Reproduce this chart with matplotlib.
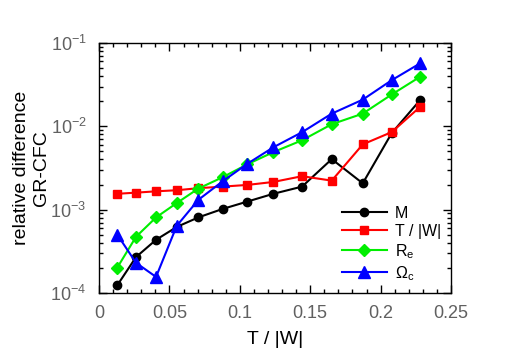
import numpy as np
import matplotlib.pyplot as plt
from matplotlib.ticker import MultipleLocator, LogLocator, LogFormatterMathtext

plt.rcParams['font.family'] = ['Liberation Sans', 'DejaVu Sans']
plt.rcParams['mathtext.fontset'] = 'custom'
plt.rcParams['mathtext.rm'] = 'Liberation Sans'
plt.rcParams['mathtext.it'] = 'Liberation Sans:italic'

# T/|W| of each model
tw = [0.0130, 0.0263, 0.0405, 0.0552, 0.0705, 0.0878, 0.1053,
      0.1238, 0.1442, 0.1653, 0.1873, 0.2079, 0.2280]

# relative differences GR-CFC
diff_M = [1.24e-4, 2.7e-4, 4.35e-4, 6.2e-4, 8.07e-4, 1.02e-3, 1.25e-3,
          1.55e-3, 1.89e-3, 4.04e-3, 2.07e-3, 8.3e-3, 2.06e-2]
diff_TW = [1.55e-3, 1.60e-3, 1.66e-3, 1.71e-3, 1.81e-3, 1.89e-3, 1.98e-3,
           2.15e-3, 2.52e-3, 2.23e-3, 6.07e-3, 8.53e-3, 1.71e-2]
diff_Re = [2.02e-4, 4.73e-4, 8.07e-4, 1.20e-3, 1.79e-3, 2.45e-3, 3.5e-3,
           4.9e-3, 6.8e-3, 1.06e-2, 1.42e-2, 2.41e-2, 3.93e-2]
diff_Om = [5.0e-4, 2.3e-4, 1.56e-4, 6.4e-4, 1.31e-3, 2.19e-3, 3.55e-3,
           5.6e-3, 8.5e-3, 1.42e-2, 2.09e-2, 3.58e-2, 5.69e-2]

fig = plt.figure(figsize=(5.12, 3.58), dpi=100)
ax = fig.add_axes([0.1934, 0.1816, 0.6875, 0.6983])

lw = 1.5
ax.plot(tw, diff_M, '-o', color='black', lw=lw, ms=6, label='M')
ax.plot(tw, diff_TW, '-s', color='red', lw=lw, ms=6, label='T / |W|')
ax.plot(tw, diff_Re, '-D', color='#00ee00', lw=lw, ms=6, label=r'R$_\mathrm{e}$')
ax.plot(tw, diff_Om, '-^', color='blue', lw=lw, ms=8, label=r'$\Omega_\mathrm{c}$')

ax.set_yscale('log')
ax.set_xlim(0, 0.25)
ax.set_ylim(1e-4, 1e-1)
ax.xaxis.set_major_locator(MultipleLocator(0.05))
ax.xaxis.set_minor_locator(MultipleLocator(0.01))
ax.yaxis.set_major_locator(LogLocator(base=10))
ax.yaxis.set_minor_locator(LogLocator(base=10, subs=np.arange(2, 10)))
ax.yaxis.set_major_formatter(LogFormatterMathtext())
ax.set_xticks([0, 0.05, 0.1, 0.15, 0.2, 0.25])
ax.set_xticklabels(['0', '0.05', '0.1', '0.15', '0.2', '0.25'])

ax.tick_params(which='both', direction='in', top=True, right=True,
               labelsize=13, labelcolor='#606060', width=1)
ax.tick_params(which='major', length=6, pad=9)
ax.tick_params(which='minor', length=3)
for s in ax.spines.values():
    s.set_linewidth(1)

ax.set_xlabel('T / |W|', fontsize=14, labelpad=6)
ax.set_ylabel('relative difference\nGR-CFC', fontsize=14, linespacing=1.25,
              labelpad=0)

ax.legend(loc='lower right', frameon=False, fontsize=11.5, handlelength=2.8,
          labelspacing=0.2, borderaxespad=0.25, handletextpad=0.5)

fig.savefig('out.png', dpi=100)
